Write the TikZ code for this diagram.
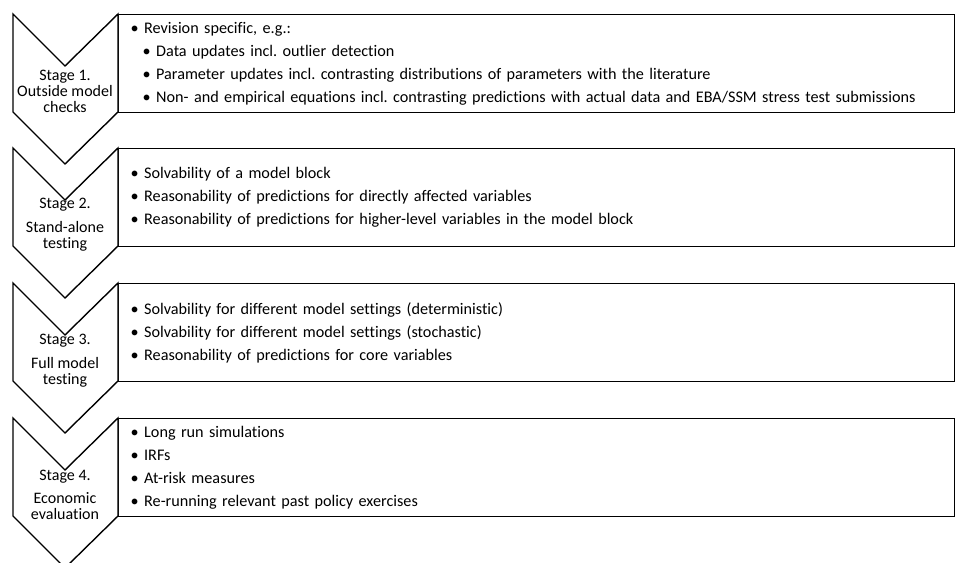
\documentclass[tikz,border=0pt]{standalone}
\usepackage{fontspec}
\setmainfont{Carlito}[Ligatures=NoCommon]
\frenchspacing
\begin{document}
\begin{tikzpicture}[x=1pt,y=-1pt,line width=1.4pt,line join=miter,
  stagearrow/.style={draw,fill=white},
  itembox/.style={draw,anchor=north west,minimum width=836pt,minimum height=98pt,
    inner xsep=12pt,text width=812pt,align=left,font=\fontsize{16.2}{23}\selectfont},
  stagelabel/.style={align=center,font=\fontsize{16}{16}\selectfont}]

\useasboundingbox (0,0) rectangle (955,562);

%------------------------------------------------
% Stage 1: outside model checks
%------------------------------------------------
\node[itembox] (items1) at (118,14) {%
  \textbullet~Revision specific, e.g.:\\
  \hspace*{12pt}\textbullet~Data updates incl. outlier detection\\
  \hspace*{12pt}\textbullet~Parameter updates incl. contrasting distributions of parameters with the literature\\
  \hspace*{12pt}\textbullet~Non- and empirical equations incl. contrasting predictions with actual data and EBA/SSM stress test submissions};
\draw[stagearrow] (13,14)--(65,66)--(118,14)--(118,112)--(65,164)--(13,112)--cycle;
\node[stagelabel] (stage1) at (65,91) {Stage 1.\\Outside model\\checks};

%------------------------------------------------
% Stage 2: stand-alone testing
%------------------------------------------------
\node[itembox] (items2) at (118,148) {%
  \textbullet~Solvability of a model block\\
  \textbullet~Reasonability of predictions for directly affected variables\\
  \textbullet~Reasonability of predictions for higher-level variables in the model block};
\draw[stagearrow] (13,148)--(65,200)--(118,148)--(118,246)--(65,298)--(13,246)--cycle;
\node[stagelabel] (stage2) at (65,225) {Stage 2.\\[8pt]Stand-alone\\testing};

%------------------------------------------------
% Stage 3: full model testing
%------------------------------------------------
\node[itembox] (items3) at (118,283) {%
  \textbullet~Solvability for different model settings (deterministic)\\
  \textbullet~Solvability for different model settings (stochastic)\\
  \textbullet~Reasonability of predictions for core variables};
\draw[stagearrow] (13,283)--(65,335)--(118,283)--(118,381)--(65,433)--(13,381)--cycle;
\node[stagelabel] (stage3) at (65,361) {Stage 3.\\[8pt]Full model\\testing};

%------------------------------------------------
% Stage 4: economic evaluation
%------------------------------------------------
\node[itembox] (items4) at (118,418) {%
  \textbullet~Long run simulations\\
  \textbullet~IRFs\\
  \textbullet~At-risk measures\\
  \textbullet~Re-running relevant past policy exercises};
\draw[stagearrow] (13,418)--(65,470)--(118,418)--(118,516)--(65,568)--(13,516)--cycle;
\node[stagelabel] (stage4) at (65,495) {Stage 4.\\[7pt]Economic\\evaluation};

\end{tikzpicture}
\end{document}
